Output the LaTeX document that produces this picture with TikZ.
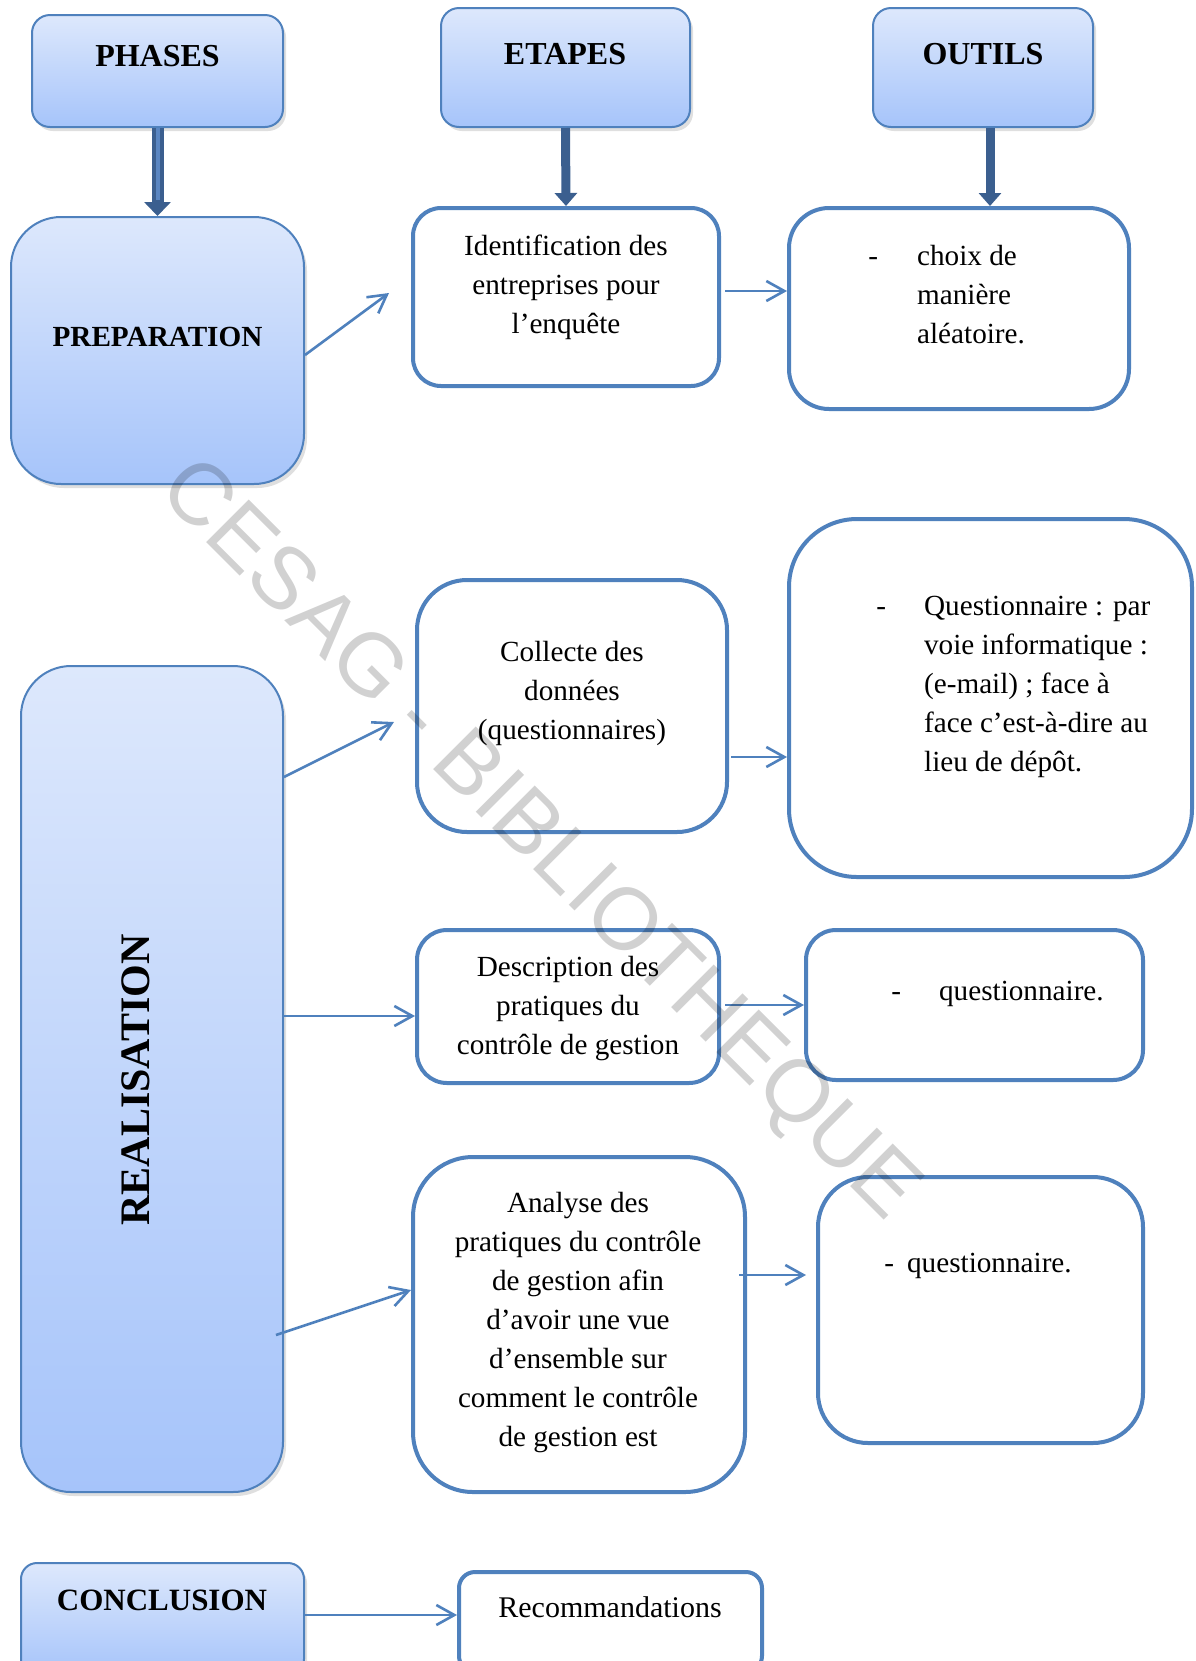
\documentclass[tikz,border=0pt]{standalone}
\usepackage{fontspec}
\setmainfont{Liberation Serif}
\newfontfamily\wmfont{Liberation Sans}
\usetikzlibrary{arrows.meta,shadows,calc}
\definecolor{bordblue}{HTML}{4F81BD}
\definecolor{gradtop}{HTML}{DDE8FC}
\definecolor{gradbot}{HTML}{A6C4FA}
\definecolor{darkarrow}{HTML}{3B5F8F}
\definecolor{stripecol}{HTML}{5A86C2}
\begin{document}
\begin{tikzpicture}[x=0.5pt,y=-0.5pt,
  gbox/.style={draw=bordblue, line width=1pt, top color=gradtop, bottom color=gradbot,
    drop shadow={opacity=0.25,shadow xshift=1.5pt,shadow yshift=-2pt}, inner sep=0pt},
  wbox/.style={draw=bordblue, line width=2pt, fill=white, inner sep=0pt},
  bodytxt/.style={font=\fontsize{14.6}{19.5}\selectfont, align=center, inner sep=0pt},
  hdrtxt/.style={font=\fontsize{16}{19}\selectfont\bfseries, inner sep=0pt},
  phasetxt/.style={font=\fontsize{14.6}{19}\selectfont\bfseries, inner sep=0pt},
  barrow/.style={draw=darkarrow, line width=6pt, -{Triangle[width=13pt,length=7pt]}},
  barrowb/.style={draw=darkarrow, line width=4.5pt, -{Triangle[width=11pt,length=6.5pt]}},
  tarrow/.style={draw=bordblue, line width=1.3pt, -{Straight Barb[length=9pt,width=10pt]}}
]
\useasboundingbox (0,0) rectangle (1195,1661);
\fill[white] (0,0) rectangle (1195,1661);

% header boxes
\node[gbox, rounded corners=9pt, minimum width=125.5pt, minimum height=56pt] (phases) at (157.5,71) {};
\node[hdrtxt] (phasesT) at (157.5,56) {PHASES};
\node[gbox, rounded corners=9pt, minimum width=124.5pt, minimum height=59.5pt] (etapes) at (565.5,67.5) {};
\node[hdrtxt] (etapesT) at (565,54) {ETAPES};
\node[gbox, rounded corners=9pt, minimum width=110pt, minimum height=59.5pt] (outils) at (983,67.5) {};
\node[hdrtxt] (outilsT) at (983,54) {OUTILS};

% phase boxes
\node[gbox, rounded corners=25pt, minimum width=146.5pt, minimum height=133.5pt] (prep) at (157.5,350.5) {};
\node[phasetxt] (prepT) at (157.5,337) {PREPARATION};
\node[gbox, rounded corners=25pt, minimum width=131pt, minimum height=413pt] (real) at (152,1079) {};
\node[font=\fontsize{21}{25}\selectfont\bfseries, inner sep=0pt, rotate=90] (realT) at (136,1080) {REALISATION};
\node[gbox, rounded corners=8pt, minimum width=141.5pt, minimum height=56pt] (concl) at (162.5,1619) {};
\node[font=\fontsize{15.5}{19}\selectfont\bfseries, inner sep=0pt] (conclT) at (162,1600) {CONCLUSION};

% white boxes
\node[wbox, rounded corners=14pt, minimum width=153pt, minimum height=89pt] (ident) at (566,297) {};
\node[bodytxt] (identT) at (566,287) {Identification des\\entreprises pour\\l’enquête};
\node[wbox, rounded corners=20pt, minimum width=170pt, minimum height=100.5pt] (choix) at (959,308.5) {};
\node[bodytxt, anchor=west] (choixT) at (868,297)
  {\begin{tabular}{@{}l@{\hspace{19.5pt}}l@{}}-&choix de\\&manière\\&aléatoire.\end{tabular}};

\node[wbox, rounded corners=25pt, minimum width=155pt, minimum height=126pt] (collecte) at (572,706) {};
\node[bodytxt] (collecteT) at (572,693) {Collecte des\\données\\(questionnaires)};
\node[wbox, rounded corners=34pt, minimum width=201.5pt, minimum height=179pt] (quest1) at (990.5,698) {};
\node[bodytxt, anchor=west] (quest1T) at (876,685.5)
  {\begin{tabular}{@{}l@{\hspace{19pt}}l@{}}-&Questionnaire : par\\&voie informatique :\\&(e-mail) ; face à\\&face c’est-à-dire au\\&lieu de dépôt.\end{tabular}};

\node[wbox, rounded corners=15pt, minimum width=151pt, minimum height=76.5pt] (desc) at (568,1006.5) {};
\node[bodytxt] (descT) at (568,1009) {Description des\\pratiques du\\contrôle de gestion};
\node[wbox, rounded corners=15pt, minimum width=168.5pt, minimum height=75pt] (quest2) at (974.5,1005) {};
\node[bodytxt, anchor=west] (quest2T) at (891,994) {-\hspace{19pt}questionnaire.};

\node[wbox, rounded corners=30pt, minimum width=166pt, minimum height=167.5pt] (analyse) at (579,1324.5) {};
\node[bodytxt] (analyseT) at (578,1322.5) {Analyse des\\pratiques du contrôle\\de gestion afin\\d’avoir une vue\\d’ensemble sur\\comment le contrôle\\de gestion est};
\node[wbox, rounded corners=25pt, minimum width=162.5pt, minimum height=133pt] (quest3) at (980.5,1310) {};
\node[bodytxt, anchor=west] (quest3T) at (884,1266) {-\hspace{6.5pt}questionnaire.};

\node[wbox, rounded corners=8pt, minimum width=151.5pt, minimum height=50pt] (recom) at (610.5,1622) {};
\node[bodytxt, font=\fontsize{15}{19}\selectfont] (recomT) at (610,1607) {Recommandations};

% thick arrows
\draw[barrow] (phases.south) -- (prep.north);
\draw[stripecol, line width=2pt] (phases.south) -- ($(prep.north)+(0pt,8pt)$);
\draw[barrowb] (etapes.south) -- (ident.north);
\draw[barrowb] ($(outils.south)+(3.5pt,0pt)$) -- ($(outils.south |- choix.north)+(3.5pt,0pt)$);

% thin arrows
\draw[tarrow] ($(prep.east)+(0pt,-2.25pt)$) -- ($(ident.west)+(-11pt,2pt)$);
\draw[tarrow] ($(ident.east)+(2pt,3pt)$) -- ($(ident.east -| choix.west)+(0pt,3pt)$);
\draw[tarrow] ($(collecte.east)+(1pt,-25.5pt)$) -- ($(collecte.east -| quest1.west)+(0pt,-25.5pt)$);
\draw[tarrow] ($(real.east)+(0pt,151pt)$) -- ($(collecte.west)+(-10.5pt,-8pt)$);
\draw[tarrow] ($(real.east)+(0pt,31.5pt)$) -- ($(real.east -| desc.west)+(0pt,31.5pt)$);
\draw[tarrow] ($(real.east)+(-4pt,-128pt)$) -- ($(analyse.west)+(0pt,17.25pt)$);
\draw[tarrow] ($(desc.east)+(2pt,0.75pt)$) -- ($(desc.east -| quest2.west)+(0pt,0.75pt)$);
\draw[tarrow] ($(analyse.east)+(-4pt,24.75pt)$) -- ($(analyse.east -| quest3.west)+(-5pt,24.75pt)$);
\draw[tarrow] ($(concl.east)+(0pt,2pt)$) -- ($(concl.east -| recom.west)+(0pt,2pt)$);

% watermark
\node[font=\wmfont\fontsize{43.8}{50}\selectfont, text=black, text opacity=0.18, rotate=-45, inner sep=0pt] (wm) at (537.5,842) {CESAG - BIBLIOTHEQUE};
\end{tikzpicture}
\end{document}
